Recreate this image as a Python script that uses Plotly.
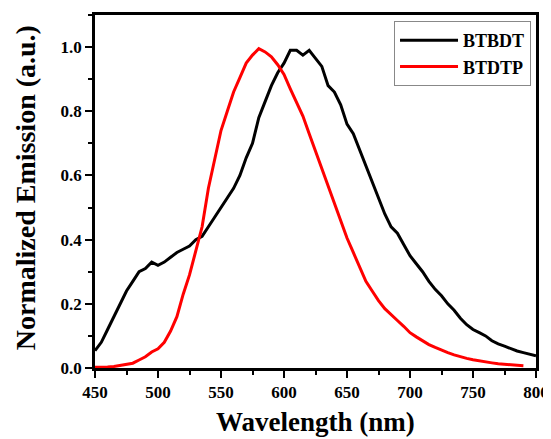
import plotly.graph_objects as go

wavelength = list(range(450, 805, 5))
btbdt = [0.054, 0.08, 0.12, 0.16, 0.20, 0.24, 0.27, 0.30, 0.31, 0.33,
         0.32, 0.33, 0.345, 0.36, 0.37, 0.38, 0.40, 0.41, 0.44, 0.47,
         0.50, 0.53, 0.56, 0.60, 0.655, 0.70, 0.78, 0.83, 0.88, 0.92,
         0.95, 0.99, 0.99, 0.975, 0.99, 0.965, 0.94, 0.88, 0.86, 0.82,
         0.76, 0.73, 0.68, 0.635, 0.58, 0.53, 0.48, 0.44, 0.42, 0.385,
         0.35, 0.325, 0.30, 0.27, 0.245, 0.225, 0.20, 0.18, 0.155, 0.135,
         0.12, 0.11, 0.10, 0.085, 0.075, 0.068, 0.06, 0.053, 0.048, 0.043,
         0.038]

wavelength_red = list(range(450, 795, 5))
btdtp = [0.002, 0.002, 0.003, 0.005, 0.008, 0.010, 0.015, 0.025, 0.035, 0.050,
         0.06, 0.08, 0.115, 0.16, 0.23, 0.29, 0.365, 0.44, 0.56, 0.645,
         0.74, 0.80, 0.86, 0.905, 0.95, 0.975, 0.995, 0.985, 0.97, 0.945,
         0.915, 0.87, 0.83, 0.785, 0.73, 0.675, 0.625, 0.57, 0.51, 0.46,
         0.405, 0.36, 0.315, 0.27, 0.24, 0.21, 0.185, 0.165, 0.148, 0.13,
         0.11, 0.097, 0.085, 0.073, 0.064, 0.055, 0.048, 0.041, 0.035, 0.030,
         0.026, 0.022, 0.019, 0.016, 0.013, 0.011, 0.009, 0.008, 0.007]

x_ticks = [450, 500, 550, 600, 650, 700, 750, 800]
y_ticks = [0.0, 0.2, 0.4, 0.6, 0.8, 1.0]

font_family = "Liberation Serif"

fig = go.Figure()
fig.add_trace(go.Scatter(x=wavelength, y=btbdt, mode="lines", name="BTBDT",
                         line=dict(color="black", width=3)))
fig.add_trace(go.Scatter(x=wavelength_red, y=btdtp, mode="lines", name="BTDTP",
                         line=dict(color="#ff0000", width=3)))

axis_common = dict(
    showline=True, linecolor="black", linewidth=2.5, mirror=True,
    ticks="outside", tickcolor="black", tickwidth=2, ticklen=7,
    showgrid=False, zeroline=False, automargin=False,
    tickfont=dict(family=font_family, size=17, color="black", weight="bold"),
)

fig.update_xaxes(range=[450, 800], tickvals=x_ticks,
                 minor=dict(dtick=25, ticks="outside", ticklen=4, tickwidth=2, tickcolor="black"),
                 **axis_common)
fig.update_yaxes(range=[0, 1.1], tickvals=y_ticks, tickformat=".1f",
                 minor=dict(dtick=0.1, ticks="outside", ticklen=4, tickwidth=2, tickcolor="black"),
                 **axis_common)

fig.add_annotation(text="Wavelength (nm)", xref="paper", yref="paper",
                   x=0.5, y=-0.153, xanchor="center", yanchor="middle", showarrow=False,
                   font=dict(family=font_family, size=27, color="black", weight="bold"))
fig.add_annotation(text="Normalized Emission (a.u.)", xref="paper", yref="paper",
                   x=-0.156, y=0.51, xanchor="center", yanchor="middle", showarrow=False,
                   textangle=-90,
                   font=dict(family=font_family, size=28, color="black", weight="bold"))

fig.update_layout(
    width=543, height=431,
    margin=dict(l=87, r=15, t=7, b=71),
    plot_bgcolor="white", paper_bgcolor="white",
    showlegend=True,
    legend=dict(x=0.9887, y=0.983, xanchor="right", yanchor="top",
                bgcolor="white", bordercolor="#888888", borderwidth=1,
                font=dict(family=font_family, size=18, color="black", weight="bold"),
                tracegroupgap=0, itemwidth=58),
)

fig.write_html("out.html")
